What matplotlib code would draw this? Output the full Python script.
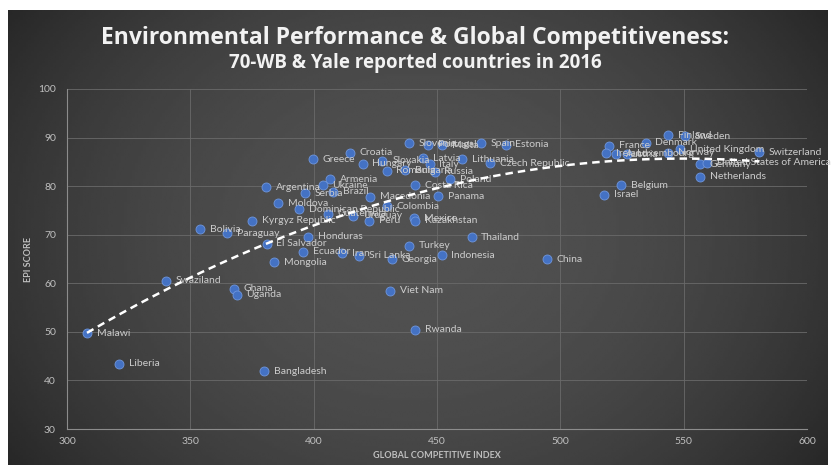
import numpy as np
import matplotlib
matplotlib.use("Agg")
import matplotlib.pyplot as plt

plt.rcParams['font.family'] = ['Lato', 'DejaVu Sans']

# dane: indeks GCI i wynik EPI
countries = ["Malawi", "Liberia", "Bangladesh", "Swaziland", "Ghana", "Uganda", "Mongolia",
             "Ecuador", "El Salvador", "Honduras", "Bolivia", "Paraguay", "Kyrgyz Republic",
             "Moldova", "Dominican Republic", "Guatemala", "Uruguay", "Peru", "Mexico",
             "Kazakhstan", "Macedonia", "Colombia", "Panama", "Costa Rica", "Poland",
             "Argentina", "Ukraine", "Serbia", "Brazil", "Armenia", "Greece", "Croatia",
             "Hungary", "Slovakia", "Romania", "Bulgaria", "Russia", "Latvia", "Italy",
             "Lithuania", "Czech Republic", "Slovenia", "Portugal", "Malta", "Spain",
             "Estonia", "Iran", "Sri Lanka", "Georgia", "Turkey", "Indonesia", "Thailand",
             "China", "Viet Nam", "Rwanda", "Israel", "Belgium", "France", "Ireland",
             "Austria", "Luxembourg", "Denmark", "Finland", "Sweden", "Norway",
             "United Kingdom", "Switzerland", "Germany", "United States of America",
             "Netherlands"]
gci = [308.1, 321.0, 379.9, 340.1, 367.8, 368.8, 383.9,
       395.8, 380.9, 397.8, 353.9, 365.0, 375.1,
       385.7, 394.0, 405.7, 416.0, 422.5, 440.8,
       441.0, 422.8, 429.8, 450.5, 441.0, 455.3,
       380.7, 403.6, 396.5, 407.8, 406.6, 399.6, 414.7,
       419.9, 427.9, 429.6, 437.0, 449.0, 444.4, 447.0,
       460.1, 471.5, 438.8, 446.5, 452.0, 468.0,
       477.8, 411.6, 418.5, 431.6, 438.8, 451.9, 464.0,
       494.4, 430.9, 441.1, 517.7, 524.6, 519.7, 518.6,
       522.5, 527.0, 534.6, 543.8, 550.5, 543.8,
       548.5, 580.7, 556.6, 559.5,
       556.6]
epi = [49.7, 43.4, 41.9, 60.5, 58.9, 57.6, 64.3,
       66.5, 68.1, 69.6, 71.1, 70.3, 72.9,
       76.5, 75.2, 74.3, 73.9, 72.9, 73.4,
       72.9, 77.8, 75.9, 77.9, 80.2, 81.4,
       79.8, 80.2, 78.5, 78.8, 81.4, 85.5, 86.9,
       84.6, 85.2, 83.2, 83.3, 83.0, 85.7, 84.5,
       85.5, 84.7, 88.8, 88.5, 88.4, 88.8,
       88.5, 66.2, 65.7, 64.9, 67.7, 65.8, 69.5,
       65.0, 58.5, 50.4, 78.2, 80.2, 88.3, 86.8,
       86.6, 86.7, 88.9, 90.5, 90.3, 86.9,
       87.6, 87.0, 84.5, 84.8,
       81.9]

x_ticks = [300, 350, 400, 450, 500, 550, 600]
y_ticks = [30, 40, 50, 60, 70, 80, 90, 100]

W, H = 831, 465
fig = plt.figure(figsize=(W / 100, H / 100), dpi=100)
fig.patch.set_facecolor('white')

# ciemne tlo z gradientem
bg = fig.add_axes([8 / W, 0, 820 / W, 455 / H])
u, v = np.meshgrid(np.linspace(-1, 1, 300), np.linspace(-1, 1, 200))
shade = 0.32 - 0.15 * (0.75 * u ** 2 + 0.35 * v ** 2)
bg.imshow(shade, cmap='gray', vmin=0, vmax=1, aspect='auto', interpolation='bilinear')
bg.axis('off')

ax = fig.add_axes([67 / W, (H - 429) / H, 740 / W, 340 / H])
ax.patch.set_alpha(0)

ax.scatter(gci, epi, s=42, color='#4472C4', edgecolors='#6f96dc', linewidths=0.6, zorder=3)
for name, xv, yv in zip(countries, gci, epi):
    ax.annotate(name, (xv, yv), xytext=(7, 0), textcoords='offset points',
                va='center', ha='left', fontsize=7.5, color='#cccccc', zorder=4)

# linia trendu (wielomian 2 stopnia)
coef = np.polyfit(gci, epi, 2)
xs = np.linspace(min(gci), max(gci), 200)
ax.plot(xs, np.polyval(coef, xs), color='white', lw=1.8, ls=(0, (3, 2)), zorder=5)

ax.set_xlim(300, 600)
ax.set_ylim(30, 100)
ax.set_xticks(x_ticks)
ax.set_yticks(y_ticks)
ax.grid(True, color='#6a6a6a', lw=0.6)
ax.set_axisbelow(True)
for s in ['top', 'right']:
    ax.spines[s].set_visible(False)
for s in ['left', 'bottom']:
    ax.spines[s].set_color('#8c8c8c')
ax.tick_params(length=0, colors='#bfbfbf', labelsize=7.5)
ax.tick_params(axis='x', pad=6)
ax.tick_params(axis='y', pad=8)

ax.set_xlabel('GLOBAL COMPETITIVE INDEX', fontsize=6.5, fontweight='bold', color='#bfbfbf', labelpad=3)
ax.set_ylabel('EPI SCORE', fontsize=6.5, fontweight='bold', color='#bfbfbf', labelpad=4)

fig.text(0.499, 1 - 38 / H, 'Environmental Performance & Global Competitiveness:', ha='center',
         va='center', fontsize=16.5, fontweight='bold', color='#f2f2f2', family='Open Sans')
fig.text(0.5, 1 - 63 / H, '70-WB & Yale reported countries in 2016', ha='center',
         va='center', fontsize=13.5, fontweight='bold', color='#f2f2f2', family='Open Sans')

plt.savefig('out.png', dpi=100)
